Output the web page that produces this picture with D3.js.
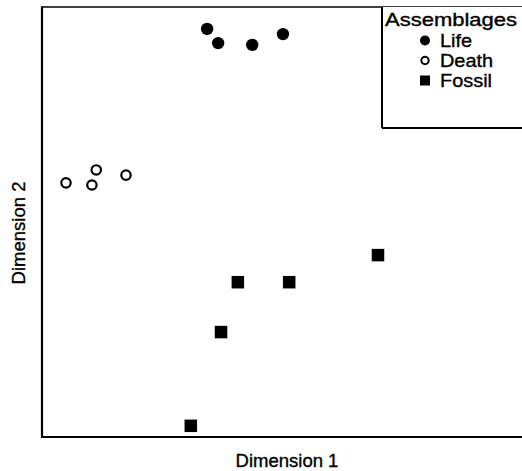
<!DOCTYPE html>
<html>
<head>
<meta charset="utf-8">
<script src="https://cdn.jsdelivr.net/npm/d3@7"></script>
<style>
  html, body { margin: 0; padding: 0; background: #fff; }
  svg { display: block; }
  text { font-family: "Liberation Sans", Arial, Helvetica, sans-serif; fill: #000; stroke: #000; stroke-width: 0.35px; }
</style>
</head>
<body>
<svg id="chart" width="522" height="471"></svg>
<script>
// Ordination scores (arbitrary units) for the three assemblage types
const lifeDim1   = [34.4, 36.7, 43.8, 50.2];
const lifeDim2   = [94.9, 91.6, 91.2, 93.7];
const deathDim1  = [5.0, 11.3, 10.4, 17.5];
const deathDim2  = [59.1, 62.1, 58.6, 60.9];
const fossilDim1 = [70.0, 40.8, 51.5, 37.3, 31.0];
const fossilDim2 = [42.3, 36.0, 36.0, 24.4, 2.6];

const legendTitle = "Assemblages";
const legendLabels = ["Life", "Death", "Fossil"];
const xTitle = "Dimension  1";
const yTitle = "Dimension  2";

const svg = d3.select("#chart");
const W = 522, H = 471;
const plotL = 42, plotT = 7, plotB = 437, plotR = 522;

const x = d3.scaleLinear().domain([0, 100]).range([plotL, plotR]);
const y = d3.scaleLinear().domain([0, 100]).range([plotB, plotT]);

const zip = (a, b) => a.map((v, i) => ({ x: v, y: b[i] }));
const life = zip(lifeDim1, lifeDim2);
const death = zip(deathDim1, deathDim2);
const fossil = zip(fossilDim1, fossilDim2);

// Plot frame (right side runs off the page)
svg.append("line").attr("x1", plotL).attr("x2", W + 2).attr("y1", plotT).attr("y2", plotT)
  .attr("stroke", "#000").attr("stroke-width", 1.5);
svg.append("line").attr("x1", plotL).attr("x2", plotL).attr("y1", plotT - 0.75).attr("y2", plotB + 1)
  .attr("stroke", "#000").attr("stroke-width", 2.2);
svg.append("line").attr("x1", plotL - 1).attr("x2", W + 2).attr("y1", plotB).attr("y2", plotB)
  .attr("stroke", "#000").attr("stroke-width", 2.2);

// Points
const g = svg.append("g");
g.selectAll("circle.life").data(life).join("circle").attr("class", "life")
  .attr("cx", d => x(d.x)).attr("cy", d => y(d.y)).attr("r", 6.2).attr("fill", "#000");
g.selectAll("circle.death").data(death).join("circle").attr("class", "death")
  .attr("cx", d => x(d.x)).attr("cy", d => y(d.y)).attr("r", 4.7)
  .attr("fill", "#fff").attr("stroke", "#000").attr("stroke-width", 2.2);
const sq = 12.5;
g.selectAll("rect.fossil").data(fossil).join("rect").attr("class", "fossil")
  .attr("x", d => x(d.x) - sq / 2).attr("y", d => y(d.y) - sq / 2)
  .attr("width", sq).attr("height", sq).attr("fill", "#000");

// Legend box
const lgLeft = 382, lgBottom = 128;
svg.append("rect").attr("x", lgLeft).attr("y", plotT).attr("width", W - lgLeft + 5).attr("height", lgBottom - plotT)
  .attr("fill", "#fff").attr("stroke", "none");
svg.append("line").attr("x1", lgLeft).attr("x2", lgLeft).attr("y1", plotT).attr("y2", lgBottom)
  .attr("stroke", "#000").attr("stroke-width", 2);
svg.append("line").attr("x1", lgLeft).attr("x2", W + 2).attr("y1", lgBottom).attr("y2", lgBottom)
  .attr("stroke", "#000").attr("stroke-width", 2);

const lgFont = 17.8;
svg.append("text").attr("x", 385).attr("y", 26).attr("font-size", lgFont)
  .attr("textLength", 132).attr("lengthAdjust", "spacingAndGlyphs").text(legendTitle);
const rowY = [47, 67, 87];
const mx = 425;
svg.append("circle").attr("cx", mx).attr("cy", rowY[0] - 6.5).attr("r", 5).attr("fill", "#000");
svg.append("circle").attr("cx", mx).attr("cy", rowY[1] - 6.5).attr("r", 3.7)
  .attr("fill", "#fff").attr("stroke", "#000").attr("stroke-width", 2);
svg.append("rect").attr("x", mx - 5).attr("y", rowY[2] - 11.5).attr("width", 10).attr("height", 10).attr("fill", "#000");
legendLabels.forEach((t, i) => {
  svg.append("text").attr("x", 440).attr("y", rowY[i]).attr("font-size", lgFont)
    .attr("transform", `translate(440,0) scale(1.12,1) translate(-440,0)`).text(t);
});

// Axis titles
svg.append("text").attr("x", 287).attr("y", 466.5)
  .attr("text-anchor", "middle").attr("font-size", 18.5).text(xTitle);
svg.append("text").attr("transform", `translate(25, 233) rotate(-90)`)
  .attr("text-anchor", "middle").attr("font-size", 18.5).text(yTitle);
</script>
</body>
</html>
